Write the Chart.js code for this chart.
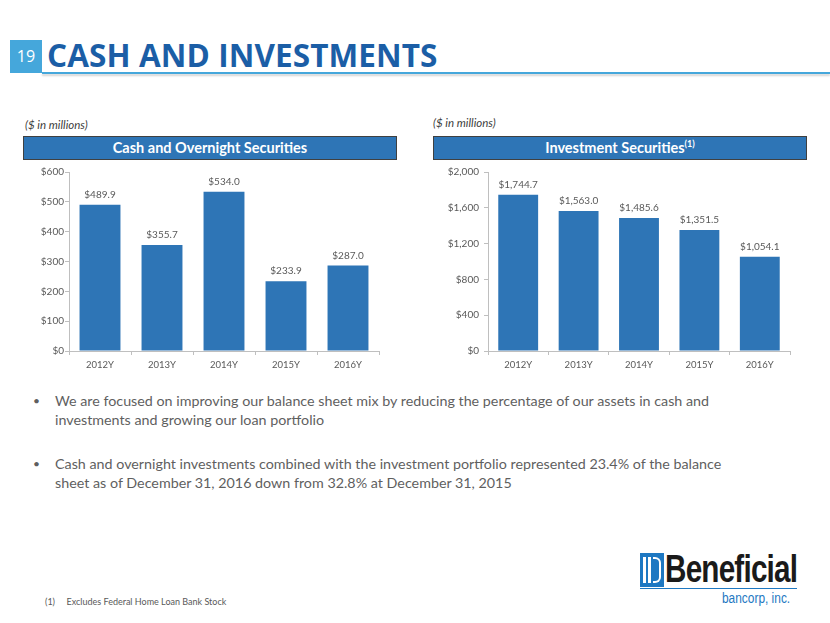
<!DOCTYPE html>
<html>
<head>
<meta charset="utf-8">
<script src="https://cdn.jsdelivr.net/npm/chart.js@4.4.0/dist/chart.umd.min.js"></script>
<style>
  body { margin: 0; width: 830px; height: 623px; background: #fff; position: relative; overflow: hidden; font-family: Lato, "Open Sans", sans-serif; }
  .abs { position: absolute; }
  #pageNum { left: 10px; top: 40px; width: 32px; height: 33px; background: #45a7db; color: #fff; font-size: 16px; line-height: 33px; text-align: center; font-family: "Open Sans", sans-serif; }
  #title { left: 47px; top: 33px; font-family: "Open Sans", sans-serif; font-weight: 700; font-size: 31.5px; color: #1b5ea6; letter-spacing: 0.1px; white-space: nowrap; }
  #rule { left: 42px; top: 72px; width: 788px; height: 2px; background: #45a7db; box-shadow: 0 2px 2px rgba(0,0,0,0.18); }
  .units { font-size: 11.5px; font-style: italic; color: #404040; }
  .hdr { height: 22px; background: #2e75b6; border: 1px solid #404040; color: #fff; font-weight: 700; font-size: 14.5px; text-align: center; line-height: 22px; box-sizing: content-box; }
  .hdr sup { font-size: 9px; line-height: 0; vertical-align: 0; position: relative; top: -6px; }
  .bullets { left: 33px; color: #5f5f5f; font-size: 14.3px; line-height: 19px; }
  .bullets .dot { position: absolute; left: 0; top: 0; font-size: 12px; }
  .bullets .txt { position: absolute; left: 22px; top: 0; white-space: nowrap; }
  #foot { left: 45px; top: 596px; font-size: 9px; color: #595959; white-space: nowrap; }
  canvas { position: absolute; }
</style>
</head>
<body>
<div id="pageNum" class="abs">19</div>
<div id="title" class="abs">CASH AND INVESTMENTS</div>
<div id="rule" class="abs"></div>

<div class="abs units" style="left:25px; top:118px;">($ in millions)</div>
<div class="abs hdr" style="left:23px; top:136px; width:372px;">Cash and Overnight Securities</div>
<div class="abs units" style="left:433px; top:116px;">($ in millions)</div>
<div class="abs hdr" style="left:433px; top:136px; width:372px;">Investment Securities<sup>(1)</sup></div>

<canvas id="cashChart"></canvas>
<canvas id="invChart"></canvas>

<div class="abs bullets" style="top:391px;">
  <div class="dot">•</div>
  <div class="txt">We are focused on improving our balance sheet mix by reducing the percentage of our assets in cash and<br>investments and growing our loan portfolio</div>
</div>
<div class="abs bullets" style="top:454px;">
  <div class="dot">•</div>
  <div class="txt">Cash and overnight investments combined with the investment portfolio represented 23.4% of the balance<br>sheet as of December 31, 2016 down from 32.8% at December 31, 2015</div>
</div>

<div id="foot" class="abs">(1)&nbsp;&nbsp;&nbsp;&nbsp;&nbsp;Excludes Federal Home Loan Bank Stock</div>

<!-- logo -->
<div class="abs" style="left:640px; top:553px; width:24px; height:34px; background:#1e78c2;"></div>
<div class="abs" style="left:643px; top:557px; width:3px; height:26px; background:#fff;"></div>
<div class="abs" style="left:648px; top:557px; width:3px; height:26px; background:#fff;"></div>
<div class="abs" style="left:653px; top:557px; width:8px; height:26px; border:2px solid #fff; border-left:none; border-radius:0 6px 6px 0; box-sizing:border-box;"></div>
<div class="abs" style="left:665px; top:548px; font-family:'Liberation Sans', Arial, sans-serif; font-weight:700; font-size:38px; color:#1a1a1a; transform-origin:0 0; transform:scaleX(0.78); letter-spacing:-1px; white-space:nowrap;">Beneficial</div>
<div class="abs" style="left:640px; top:588px; width:157px; height:1px; background:#1e78c2;"></div>
<div class="abs" style="left:722px; top:590px; font-family:'Liberation Sans', Arial, sans-serif; font-size:14px; color:#1e78c2; transform-origin:0 0; transform:scaleX(0.85); white-space:nowrap;">bancorp, inc.</div>

<script>
// ===== Data =====
const years = ['2012Y', '2013Y', '2014Y', '2015Y', '2016Y'];
const cashValues = [489.9, 355.7, 534.0, 233.9, 287.0];
const investmentValues = [1744.7, 1563.0, 1485.6, 1351.5, 1054.1];
const cashTicks = [0, 600, 100];         // min, max, step
const investmentTicks = [0, 2000, 400];

const BAR_COLOR = '#2e75b6';
const TEXT_COLOR = '#595959';
const AXIS_COLOR = '#bfbfbf';
const FONT = 'Lato, "Open Sans", sans-serif';

// ===== Helpers =====
function money(v, decimals) {
  return '$' + v.toLocaleString('en-US', { minimumFractionDigits: decimals, maximumFractionDigits: decimals });
}

// draws value above each bar
const valueLabels = {
  id: 'valueLabels',
  afterDatasetsDraw(chart) {
    const ctx = chart.ctx;
    const meta = chart.getDatasetMeta(0);
    ctx.save();
    ctx.fillStyle = TEXT_COLOR;
    ctx.font = '10px ' + FONT;
    ctx.textAlign = 'center';
    ctx.textBaseline = 'bottom';
    meta.data.forEach((bar, i) => {
      ctx.fillText(money(chart.data.datasets[0].data[i], 1), bar.x, bar.y - 5);
    });
    ctx.restore();
  }
};

function makeChart(id, box, values, ticks, yWidth, labelGap) {
  const canvas = document.getElementById(id);
  canvas.style.left = box.left + 'px';
  canvas.style.top = box.top + 'px';
  canvas.width = box.width;
  canvas.height = box.height;
  canvas.style.width = box.width + 'px';
  canvas.style.height = box.height + 'px';

  return new Chart(canvas, {
    type: 'bar',
    data: {
      labels: years,
      datasets: [{
        data: values,
        backgroundColor: BAR_COLOR,
        categoryPercentage: 0.66,
        barPercentage: 1
      }]
    },
    options: {
      responsive: false,
      animation: false,
      layout: { padding: { top: box.padTop, right: box.padRight, left: 0, bottom: 0 } },
      plugins: { legend: { display: false }, tooltip: { enabled: false } },
      scales: {
        x: {
          afterFit: s => { s.height = 25; },
          grid: { drawOnChartArea: false, color: AXIS_COLOR, tickLength: 4, offset: true },
          border: { color: AXIS_COLOR },
          ticks: { color: TEXT_COLOR, font: { size: 9.5, family: FONT }, padding: 4 }
        },
        y: {
          min: ticks[0], max: ticks[1],
          afterFit: s => { s.width = yWidth; },
          grid: { drawOnChartArea: false, color: AXIS_COLOR, tickLength: 4 },
          border: { color: AXIS_COLOR },
          ticks: {
            stepSize: ticks[2],
            color: TEXT_COLOR,
            font: { size: 10, family: FONT },
            padding: labelGap,
            callback: v => money(v, 0)
          }
        }
      }
    },
    plugins: [valueLabels]
  });
}

makeChart('cashChart', { left: 20, top: 160, width: 375, height: 216, padTop: 12, padRight: 16 }, cashValues, cashTicks, 49, 1);
makeChart('invChart', { left: 430, top: 160, width: 370, height: 216, padTop: 12, padRight: 10 }, investmentValues, investmentTicks, 58, 5);
</script>
</body>
</html>
